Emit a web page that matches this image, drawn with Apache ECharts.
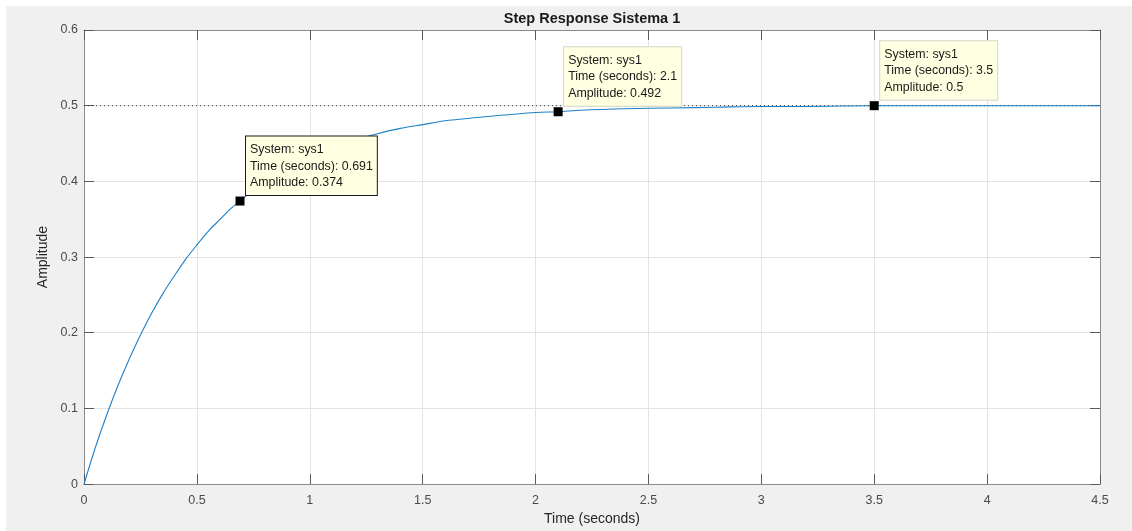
<!DOCTYPE html>
<html>
<head>
<meta charset="utf-8">
<title>Step Response Sistema 1</title>
<script src="https://cdn.jsdelivr.net/npm/echarts@6/dist/echarts.min.js"></script>
<style>
  html, body { margin: 0; padding: 0; background: #ffffff; }
  #chart { position: absolute; left: 6px; top: 6px; width: 1126px; height: 525px; }
</style>
</head>
<body>
<div id="chart"></div>
<script>
// Step response of sys1 (time in seconds, amplitude)
const timeSeconds = [0, 0.05, 0.1, 0.15, 0.2, 0.25, 0.3, 0.35, 0.4, 0.45, 0.5, 0.55, 0.6, 0.65, 0.691, 0.75,
  0.8, 0.9, 1.0, 1.1, 1.2, 1.3, 1.4, 1.5, 1.6, 1.8, 2.0, 2.1, 2.2, 2.4, 2.6, 2.8, 3.0, 3.2, 3.5, 3.8, 4.0, 4.5];
const amplitude = [0, 0.048, 0.091, 0.130, 0.165, 0.197, 0.226, 0.252, 0.275, 0.297, 0.316, 0.334, 0.349, 0.364, 0.374, 0.389,
  0.399, 0.417, 0.432, 0.445, 0.455, 0.463, 0.470, 0.475, 0.480, 0.486, 0.491, 0.492, 0.494, 0.496, 0.497, 0.498, 0.499, 0.499, 0.5, 0.5, 0.5, 0.5];

// Final value reference line
const steadyState = 0.5;

// Data tips
const tipTimes = [0.691, 2.1, 3.5];
const tipAmplitudes = [0.374, 0.492, 0.5];
const tipTimeText = ['0.691', '2.1', '3.5'];
const tipAmpText = ['0.374', '0.492', '0.5'];
const tipSystem = 'sys1';

const xTicks = { min: 0, max: 4.5, interval: 0.5 };
const yTicks = { min: 0, max: 0.6, interval: 0.1 };

const axisColor = '#8c8c8c';
const labelColor = '#4a4a4a';
const gridColor = '#e3e3e3';
const fontFamily = '"Liberation Sans", Arial, Helvetica, sans-serif';

const curve = timeSeconds.map((t, i) => [t, amplitude[i]]);

const tipBorders = ['#1a1a1a', '#d6d6c2', '#d6d6c2'];
const tips = tipTimes.map((t, i) => ({
  value: [t, tipAmplitudes[i]],
  label: {
    borderColor: tipBorders[i],
    formatter: 'System: ' + tipSystem + '\nTime (seconds): ' + tipTimeText[i] + '\nAmplitude: ' + tipAmpText[i]
  }
}));

const baseAxis = {
  axisLine: { show: true, onZero: false, lineStyle: { color: axisColor, width: 1 } },
  axisTick: { show: true, inside: true, length: 10, lineStyle: { color: '#5a5a5a' } },
};

const chart = echarts.init(document.getElementById('chart'), null, { renderer: 'canvas' });
chart.setOption({
  backgroundColor: '#f0f0f0',
  animation: false,
  textStyle: { fontFamily: fontFamily },
  title: {
    text: 'Step Response Sistema 1',
    left: 586, textAlign: 'center',
    top: 5, padding: 0,
    textStyle: { fontSize: 14.5, fontWeight: 'bold', color: '#1a1a1a', fontFamily: fontFamily }
  },
  grid: { left: 78, top: 24, right: 32, bottom: 42, show: true, backgroundColor: '#ffffff', borderWidth: 0 },
  xAxis: [
    Object.assign({}, baseAxis, {
      type: 'value', position: 'bottom',
      min: xTicks.min, max: xTicks.max, interval: xTicks.interval,
      name: 'Time (seconds)', nameLocation: 'middle', nameGap: 25,
      nameTextStyle: { fontSize: 14, color: '#262626', fontFamily: fontFamily },
      axisLabel: { color: labelColor, fontSize: 12.5, margin: 10, fontFamily: fontFamily },
      splitLine: { show: true, lineStyle: { color: gridColor, width: 1 } }
    }),
    Object.assign({}, baseAxis, {
      type: 'value', position: 'top',
      min: xTicks.min, max: xTicks.max, interval: xTicks.interval,
      axisLabel: { show: false }, splitLine: { show: false }
    })
  ],
  yAxis: [
    Object.assign({}, baseAxis, {
      type: 'value', position: 'left',
      min: yTicks.min, max: yTicks.max, interval: yTicks.interval,
      name: 'Amplitude', nameLocation: 'middle', nameGap: 26,
      nameTextStyle: { fontSize: 14, color: '#262626', fontFamily: fontFamily },
      axisLabel: { color: labelColor, fontSize: 12.5, margin: 6, fontFamily: fontFamily,
        padding: [3, 0, 0, 0],
        formatter: v => (Math.round(v * 10) / 10).toString() },
      splitLine: { show: true, lineStyle: { color: gridColor, width: 1 } }
    }),
    Object.assign({}, baseAxis, {
      type: 'value', position: 'right',
      min: yTicks.min, max: yTicks.max, interval: yTicks.interval,
      axisLabel: { show: false }, splitLine: { show: false }
    })
  ],
  series: [
    {
      name: 'final value',
      type: 'line',
      data: [[xTicks.min, steadyState], [xTicks.max, steadyState]],
      symbol: 'none',
      lineStyle: { color: '#3a3a3a', width: 1, type: [1, 3] },
      silent: true, z: 2
    },
    {
      name: 'sys1',
      type: 'line',
      data: curve,
      smooth: 0.3,
      symbol: 'none',
      lineStyle: { color: '#1f80c6', width: 1.1 },
      silent: true, z: 3
    },
    {
      name: 'datatips',
      type: 'scatter',
      data: tips,
      symbol: 'rect',
      symbolSize: 9,
      itemStyle: { color: '#000000', opacity: 1 },
      z: 5,
      label: {
        show: true,
        position: [10.5, -1.5],
        align: 'left',
        verticalAlign: 'bottom',
        backgroundColor: '#ffffe1',
        borderWidth: 1,
        padding: [5, 4, 4, 4],
        lineHeight: 16.5,
        fontSize: 12.4,
        color: '#1a1a1a',
        opacity: 1,
        fontFamily: fontFamily
      }
    }
  ]
});
</script>
</body>
</html>
